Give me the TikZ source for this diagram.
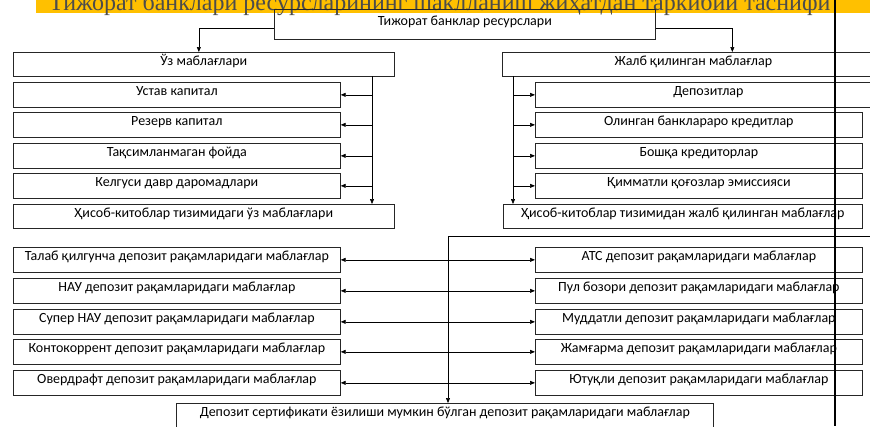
\documentclass[tikz,border=0pt]{standalone}
\usepackage{fontspec}
\newfontfamily\boxfont{Carlito}
\newfontfamily\titlefont{Liberation Serif}
\usetikzlibrary{positioning}
\usetikzlibrary{arrows.meta}
\usetikzlibrary{calc}
\definecolor{banner}{HTML}{FFC000}

\begin{document}
\begin{tikzpicture}[x=1pt, y=-1pt,
        box/.style={draw=black!85, line width=0.7pt, anchor=north west, inner sep=1pt,
            text height=9pt, text depth=7pt, font=\boxfont\fontsize{14}{15}\selectfont},
        link/.style={draw=black, line width=0.6pt, -{Triangle[length=5pt,width=4pt]}}]
        \useasboundingbox (0,0) rectangle (870,426);
        \clip (0,0) rectangle (870,426);

        % title banner
        \fill[banner] (36,0) rectangle (870,13);
        \node[anchor=base west, inner sep=0, text=black!70, font=\titlefont\fontsize{24}{24}\selectfont] (title) at (49,10) {Тижорат банклари ресурсларининг шаклланиш жиҳатдан таркибий таснифи};

        \node[box, minimum width=381pt, minimum height=30pt] (res) at (274,9) {Тижорат банклар ресурслари};
        \node[box, minimum width=381pt, minimum height=24pt] (own) at (13,52) {Ўз маблағлари};
        \node[box, minimum width=382pt, minimum height=24pt] (raised) at (502,52) {Жалб қилинган маблағлар};
        \draw[link] ([yshift=-4pt]res.west) -| ([xshift=-5pt]own.north);
        \draw[link] ([yshift=-4pt]res.east) -| ([xshift=39pt]raised.north);

        % own funds
        \node[box, minimum width=327pt, minimum height=25pt] (charter) at (13,82) {Устав капитал};
        \node[box, minimum width=327pt, minimum height=25pt] (reserve) at (13,112) {Резерв капитал};
        \node[box, minimum width=327pt, minimum height=25pt] (retained) at (13,143) {Тақсимланмаган фойда};
        \node[box, minimum width=327pt, minimum height=25pt] (future) at (13,173) {Келгуси давр даромадлари};
        \node[box, minimum width=381pt, minimum height=24pt] (ownbook) at (13,204) {Ҳисоб-китоблар тизимидаги ўз маблағлари};
        \coordinate (ownbus) at (372,76);
        \draw[link] (ownbus) -- (ownbus |- ownbook.north);
        \foreach \n in {charter,reserve,retained,future}
            \draw[link] (ownbus |- \n.east) -- (\n.east);

        % raised funds
        \node[box, minimum width=346pt, minimum height=25pt] (deposits) at (535,82) {Депозитлар};
        \node[box, minimum width=327pt, minimum height=25pt] (interbank) at (535,112) {Олинган банклараро кредитлар};
        \node[box, minimum width=327pt, minimum height=25pt] (creditors) at (535,143) {Бошқа кредиторлар};
        \node[box, minimum width=327pt, minimum height=25pt] (securities) at (535,173) {Қимматли қоғозлар эмиссияси};
        \node[box, minimum width=359pt, minimum height=24pt] (raisedbook) at (503,204) {Ҳисоб-китоблар тизимидан жалб қилинган маблағлар};
        \coordinate (raisedbus) at (513,76);
        \draw[link] (raisedbus) -- (raisedbus |- raisedbook.north);
        \foreach \n in {deposits,interbank,creditors,securities}
            \draw[link] (raisedbus |- \n.west) -- (\n.west);

        % deposit accounts
        \node[box, minimum width=327pt, minimum height=25pt] (demand) at (13,247) {Талаб қилгунча депозит рақамларидаги маблағлар};
        \node[box, minimum width=327pt, minimum height=25pt] (nau) at (13,278) {НАУ депозит рақамларидаги маблағлар};
        \node[box, minimum width=327pt, minimum height=25pt] (supernau) at (13,309) {Супер НАУ депозит рақамларидаги маблағлар};
        \node[box, minimum width=327pt, minimum height=25pt] (current) at (13,339) {Контокоррент депозит рақамларидаги маблағлар};
        \node[box, minimum width=327pt, minimum height=25pt] (overdraft) at (13,370) {Овердрафт депозит рақамларидаги маблағлар};
        \node[box, minimum width=327pt, minimum height=25pt] (ats) at (535,247) {АТС депозит рақамларидаги маблағлар};
        \node[box, minimum width=327pt, minimum height=25pt] (money) at (535,278) {Пул бозори депозит рақамларидаги маблағлар};
        \node[box, minimum width=327pt, minimum height=25pt] (term) at (535,309) {Муддатли депозит рақамларидаги маблағлар};
        \node[box, minimum width=327pt, minimum height=25pt] (savings) at (535,339) {Жамғарма депозит рақамларидаги маблағлар};
        \node[box, minimum width=327pt, minimum height=25pt] (lottery) at (535,370) {Ютуқли депозит рақамларидаги маблағлар};
        \node[box, minimum width=537pt, minimum height=24pt] (cert) at (176,403) {Депозит сертификати ёзилиши мумкин бўлган депозит рақамларидаги маблағлар};
        \coordinate (feed) at (880,236);
        \coordinate (depbus) at (448,236);
        \draw[link] (feed) -- (depbus) -- (depbus |- cert.north);
        \foreach \n in {demand,nau,supernau,current,overdraft}
            \draw[link] (depbus |- \n.east) -- (\n.east);
        \foreach \n in {ats,money,term,savings,lottery}
            \draw[link] (depbus |- \n.west) -- (\n.west);

        \draw[line width=2pt] (835,0) -- (835,426);
    \end{tikzpicture}
\end{document}
